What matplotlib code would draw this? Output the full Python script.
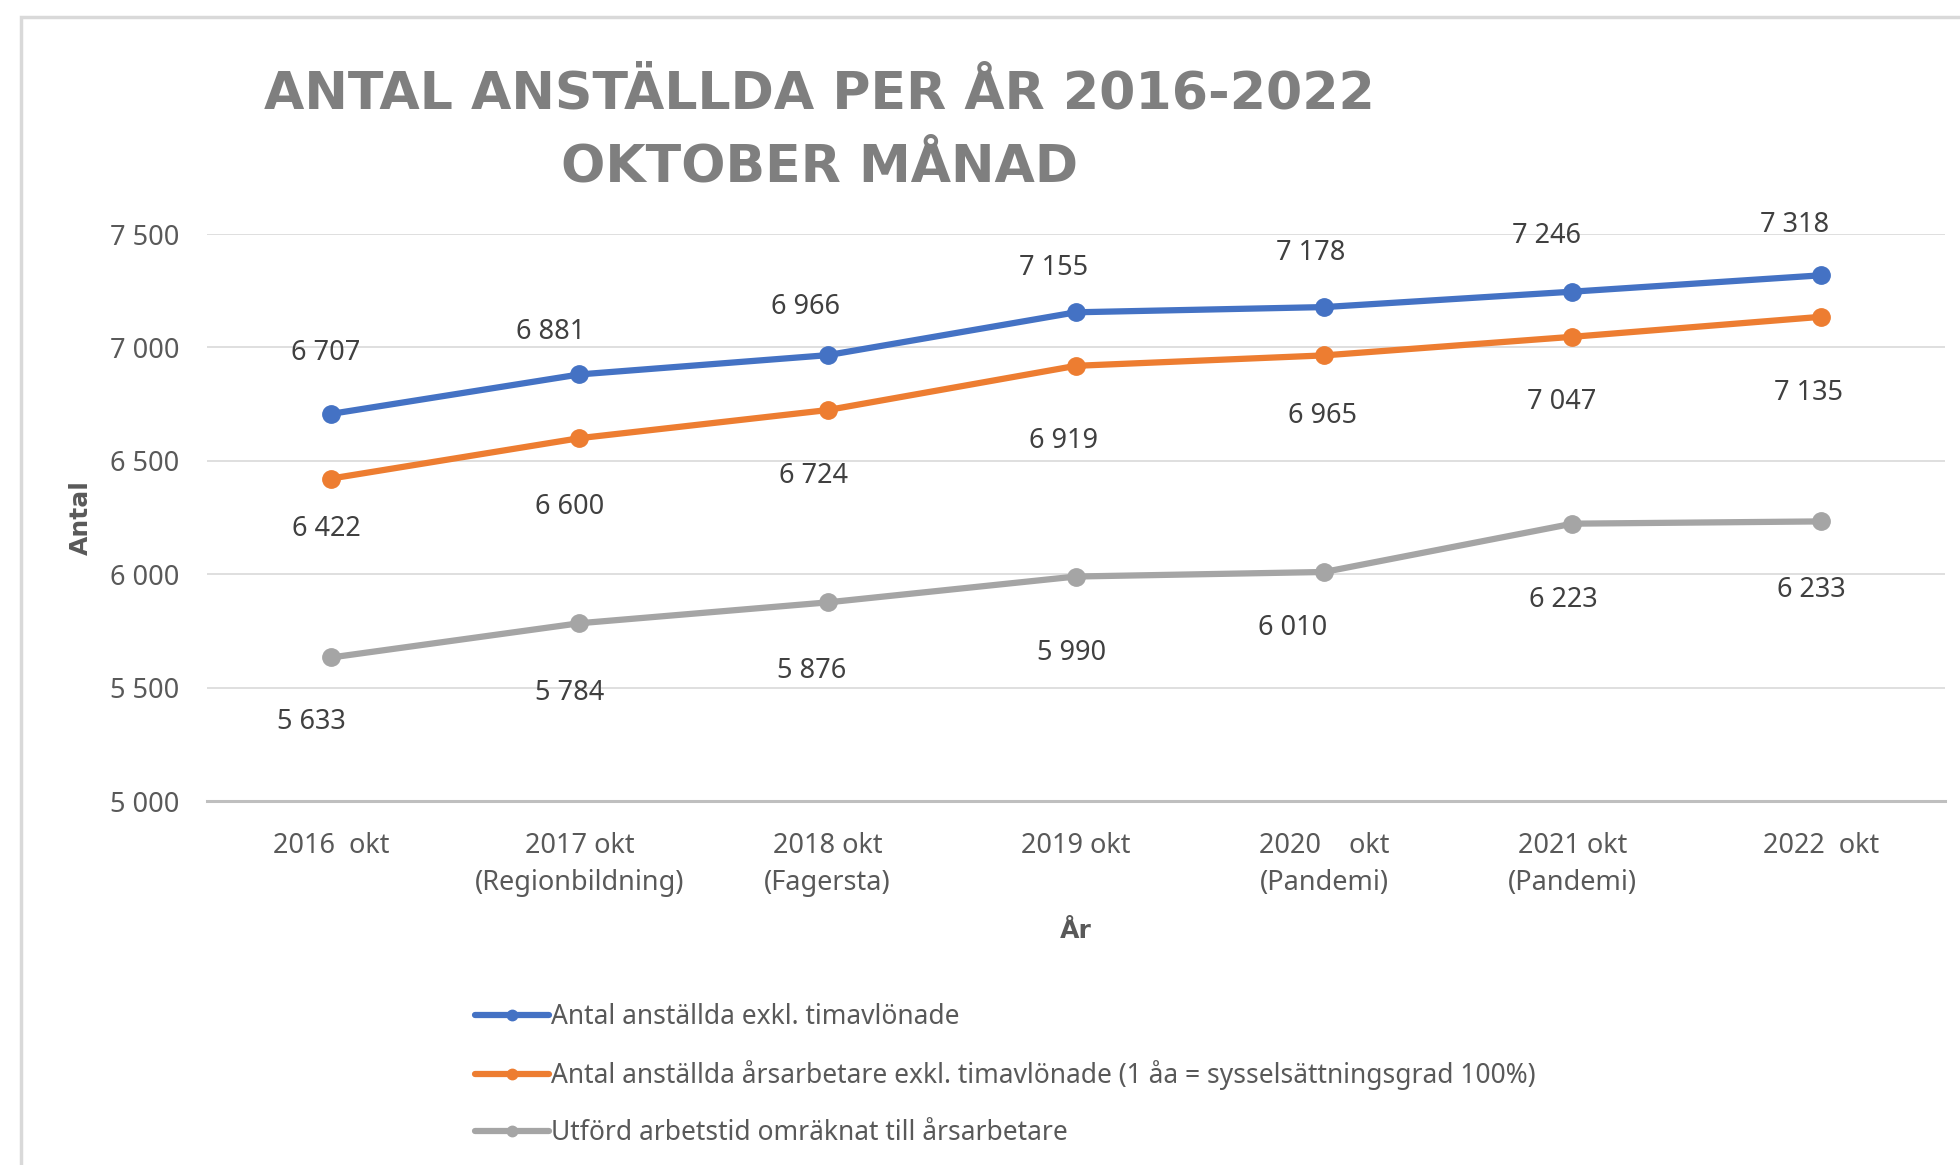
import matplotlib.pyplot as plt
from matplotlib.patches import Rectangle

plt.rcParams['font.family'] = ['Noto Sans', 'DejaVu Sans']

# categories and series
years = ['2016  okt', '2017 okt\n(Regionbildning)', '2018 okt\n(Fagersta)', '2019 okt',
         '2020    okt\n(Pandemi)', '2021 okt\n(Pandemi)', '2022  okt']
anstallda = [6707, 6881, 6966, 7155, 7178, 7246, 7318]
arsarbetare = [6422, 6600, 6724, 6919, 6965, 7047, 7135]
utford = [5633, 5784, 5876, 5990, 6010, 6223, 6233]

labels = ['Antal anställda exkl. timavlönade',
          'Antal anställda årsarbetare exkl. timavlönade (1 åa = sysselsättningsgrad 100%)',
          'Utförd arbetstid omräknat till årsarbetare']
colors = ['#4472C4', '#ED7D31', '#A5A5A5']

# manual nudges of the data labels (pixels, relative to each point)
nudge_blue = [(-5, 61), (-29, 42), (-22, 48), (-22, 44), (-14, 54), (-26, 56), (-26, 50)]
nudge_orange = [(-5, -50), (-10, -69), (-14, -66), (-12, -75), (-2, -61), (-11, -65), (-12, -76)]
nudge_gray = [(-20, -65), (-10, -70), (-16, -69), (-4, -76), (-32, -56), (-9, -76), (-9, -69)]


def fmt(v):
    return f'{v:,}'.replace(',', ' ')


bold = ['DejaVu Sans']

fig = plt.figure(figsize=(19.6, 11.65), dpi=100)
ax = fig.add_axes([0.1056, 0.3124, 0.8867, 0.4867])

x = list(range(len(years)))
series = [anstallda, arsarbetare, utford]
nudges = [nudge_blue, nudge_orange, nudge_gray]
for vals, lab, col, nud in zip(series, labels, colors, nudges):
    ax.plot(x, vals, color=col, lw=4.5, marker='o', markersize=12.5,
            solid_capstyle='round', label=lab, zorder=3)
    for xi, v, (dx, dy) in zip(x, vals, nud):
        ax.annotate(fmt(v), (xi, v), xytext=(dx, dy), textcoords='offset pixels',
                    ha='center', va='center', fontsize=19.5, color='#404040')

ax.set_xlim(-0.5, len(years) - 0.5)
ax.set_ylim(5000, 7500)
ax.set_yticks([5000, 5500, 6000, 6500, 7000, 7500])
ax.set_yticklabels([fmt(v) for v in [5000, 5500, 6000, 6500, 7000, 7500]])
ax.set_xticks(x)
ax.set_xticklabels(years, linespacing=1.45)
ax.tick_params(axis='both', length=0, labelsize=19.5, labelcolor='#595959')
ax.tick_params(axis='y', pad=20)
ax.tick_params(axis='x', pad=22)
ax.yaxis.grid(True, color='#D9D9D9', lw=1.2)
ax.set_axisbelow(True)
for s in ['top', 'left', 'right']:
    ax.spines[s].set_visible(False)
ax.spines['bottom'].set_color('#BFBFBF')
ax.spines['bottom'].set_linewidth(2.2)

ax.set_xlabel('År', fontsize=18, fontweight='bold', family=bold, color='#595959', labelpad=16)
ax.set_ylabel('Antal', fontsize=18, fontweight='bold', family=bold, color='#595959', labelpad=12)

# title
fig.text(0.418, 0.919, 'ANTAL ANSTÄLLDA PER ÅR 2016-2022', ha='center', va='center',
         fontsize=37.5, fontweight='bold', family=bold, color='#7F7F7F')
fig.text(0.418, 0.856, 'OKTOBER MÅNAD', ha='center', va='center',
         fontsize=37.5, fontweight='bold', family=bold, color='#7F7F7F')

leg = fig.legend(loc='upper left', bbox_to_anchor=(0.2425, 0.139), frameon=False,
                 fontsize=19, labelcolor='#595959', handlelength=2.8,
                 handletextpad=0.05, labelspacing=1.1, markerscale=0.6,
                 borderaxespad=0, borderpad=0)

# chart border
fig.add_artist(Rectangle((21 / 1960, -0.1), 1.2, 1 - 17 / 1165 + 0.1,
                         transform=fig.transFigure, fill=False,
                         edgecolor='#D9D9D9', lw=2.5))

fig.savefig('out.png', dpi=100)
